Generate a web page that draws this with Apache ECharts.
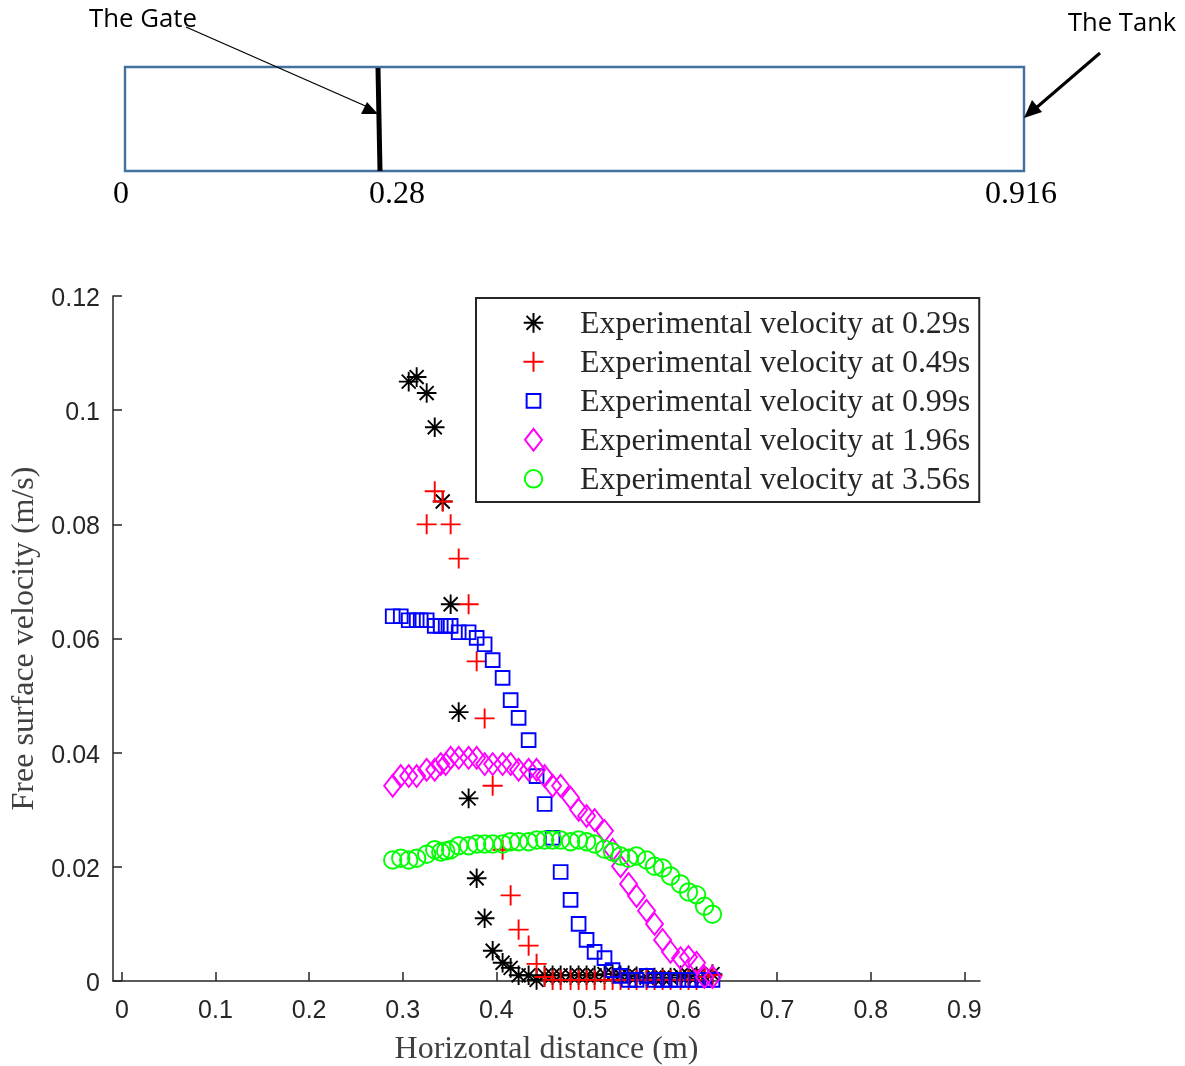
<!DOCTYPE html>
<html>
<head>
<meta charset="utf-8">
<style>html,body{margin:0;padding:0;background:#fff}#c{width:1185px;height:1066px}</style>
<script src="https://cdn.jsdelivr.net/npm/echarts@6/dist/echarts.min.js"></script>
</head>
<body>
<div id="c"></div>
<script>
const xTickValues = [0,0.1,0.2,0.3,0.4,0.5,0.6,0.7,0.8,0.9];
const legendNames = ['Experimental velocity at 0.29s','Experimental velocity at 0.49s','Experimental velocity at 0.99s','Experimental velocity at 1.96s','Experimental velocity at 3.56s'];

const blackX = [.3064,.3149,.3256,.3342,.3427,.3512,.3598,.3704,.3790,.3875,.3961,.4067,.4153,.4238,.4345,.4430,.4516,.4601,.4687,.4793,.4879,.4964,.5050,.5156,.5242,.5327,.5413,.5498,.5605,.5690,.5776,.5861,.5968,.6053,.6139,.6224,.6309];
const blackY = [.1050,.1058,.1030,.0970,.0840,.0660,.0471,.0320,.0180,.0110,.0053,.0032,.0023,.0010,.0010,.0002,.0010,.0010,.0010,.0010,.0010,.0010,.0010,.0012,.0012,.0010,.0010,.0008,.0006,.0006,.0006,.0006,.0010,.0010,.0008,.0008,.0012];

const redX = [.3342,.3427,.3256,.3512,.3598,.3704,.3790,.3875,.3961,.4067,.4153,.4238,.4345,.4430,.4516,.4601,.4687,.4793,.4879,.4964,.5050,.5156,.5242,.5327,.5413,.5498,.5605,.5690,.5776,.5861,.5968,.6053,.6139,.6224,.6309];
const redY = [.0858,.0840,.0800,.0800,.0740,.0660,.0560,.0460,.0342,.0230,.0150,.0090,.0062,.0030,.0007,.0002,.0002,.0002,.0002,.0002,.0002,.0002,.0002,.0002,.0002,.0002,.0002,.0002,.0002,.0002,.0002,.0002,.0002,.0007,.0010];

const blueX = [.2893,.2979,.3064,.3149,.3192,.3256,.3342,.3406,.3459,.3512,.3598,.3704,.3790,.3875,.3961,.4067,.4153,.4238,.4345,.4430,.4516,.4601,.4687,.4793,.4879,.4964,.5050,.5156,.5242,.5327,.5413,.5498,.5605,.5690,.5776,.5861,.5946,.6053,.6139,.6224,.6309];
const blueY = [.0639,.0639,.0632,.0632,.0632,.0632,.0622,.0622,.0622,.0622,.0611,.0611,.0601,.0590,.0562,.0531,.0492,.0461,.0422,.0359,.0310,.0251,.0191,.0142,.0100,.0072,.0051,.0040,.0019,.0009,.0002,.0002,.0009,.0002,.0002,.0002,.0002,.0002,.0002,.0002,.0002];

const magentaX = [.2893,.2979,.3064,.3149,.3256,.3342,.3406,.3459,.3512,.3598,.3704,.3790,.3875,.3961,.4067,.4153,.4238,.4345,.4430,.4516,.4601,.4687,.4793,.4879,.4964,.5050,.5156,.5242,.5327,.5413,.5498,.5605,.5690,.5776,.5861,.5968,.6053,.6139,.6224,.6309];
const magentaY = [.0342,.0359,.0359,.0359,.0370,.0370,.0380,.0380,.0391,.0391,.0391,.0391,.0380,.0380,.0380,.0380,.0370,.0370,.0370,.0359,.0342,.0342,.0321,.0300,.0289,.0282,.0263,.0230,.0201,.0170,.0149,.0123,.0100,.0072,.0051,.0040,.0042,.0032,.0007,.0007];

const greenX = [.2893,.2979,.3064,.3149,.3256,.3342,.3406,.3459,.3512,.3598,.3704,.3790,.3875,.3961,.4067,.4153,.4238,.4345,.4430,.4516,.4601,.4687,.4793,.4879,.4964,.5050,.5156,.5242,.5327,.5413,.5498,.5605,.5690,.5776,.5861,.5968,.6053,.6139,.6224,.6309];
const greenY = [.0212,.0215,.0212,.0215,.0222,.0230,.0226,.0228,.0230,.0237,.0237,.0240,.0240,.0240,.0240,.0244,.0244,.0244,.0247,.0247,.0247,.0247,.0244,.0247,.0244,.0240,.0231,.0226,.0219,.0215,.0219,.0212,.0201,.0198,.0184,.0170,.0156,.0151,.0131,.0117];

const markPad = 'M0 0L0 0M22 22L22 22';
const legendPad = 'M0 0L0 0M22 26L22 26';
const starShape = 'M11 2V20M2 11H20M4.6 4.6L17.4 17.4M17.4 4.6L4.6 17.4';
const plusShape = 'M11 1.8V20.2M1.8 11H20.2';
const squareShape = 'M4.7 4.7H17.3V17.3H4.7Z';
const diamondShape = 'M11 1L18.8 11L11 21L3.2 11Z';
const circleShape = 'M3 11A8 8 0 1 0 19 11A8 8 0 1 0 3 11Z';
const shapes = [starShape, plusShape, squareShape, diamondShape, circleShape];

function pairs(xs, ys){ return xs.map((x,i)=>[x,ys[i]]); }
function mk(i, xs, ys, color){
  return {name:legendNames[i], type:'scatter', data:pairs(xs,ys), symbol:'path://'+markPad+shapes[i], symbolSize:24, z:2+i,
    itemStyle:{color:'rgba(0,0,0,0)', borderColor:color, borderWidth:1.9, opacity:1},
    emphasis:{disabled:true}, animation:false, clip:false};
}
const serif = '"Liberation Serif","Times New Roman",serif';
const sans = '"Liberation Sans",Arial,sans-serif';
const axisCol = '#262626';

const chart = echarts.init(document.getElementById('c'), null, {renderer:'canvas'});
chart.setOption({
  animation:false,
  backgroundColor:'#fff',
  grid:{left:113, right:205, top:296, bottom:85, containLabel:false, outerBoundsMode:'none'},
  xAxis:{type:'value', min:-0.0095, max:0.9167,
    name:'Horizontal distance (m)', nameLocation:'middle', nameGap:53,
    nameTextStyle:{fontFamily:serif, fontSize:32, color:'#404040'},
    axisLine:{show:true, onZero:false, lineStyle:{color:axisCol, width:1.5}},
    axisTick:{show:true, inside:true, length:9, customValues:xTickValues, lineStyle:{color:axisCol, width:1.5}},
    axisLabel:{show:true, customValues:xTickValues, margin:18, fontFamily:sans, fontSize:25, color:'#262626',
      formatter:v=>String(v)},
    splitLine:{show:false}},
  yAxis:{type:'value', min:0, max:0.12, interval:0.02,
    name:'Free surface velocity (m/s)', nameLocation:'middle', nameGap:72,
    nameTextStyle:{fontFamily:serif, fontSize:32, color:'#404040'},
    axisLine:{show:true, onZero:false, lineStyle:{color:axisCol, width:1.5}},
    axisTick:{show:true, inside:true, length:9, lineStyle:{color:axisCol, width:1.5}},
    axisLabel:{show:true, margin:13, fontFamily:sans, fontSize:25, color:'#262626', verticalAlign:'top', lineHeight:6},
    splitLine:{show:false}},
  legend:{show:true, left:476, top:298, orient:'vertical', align:'left',
    padding:[11,9,5,44.5], itemWidth:24, itemHeight:28.4, itemGap:7,
    borderColor:'#262626', borderWidth:2, backgroundColor:'#fff', z:1,
    selectedMode:false,
    textStyle:{fontFamily:serif, fontSize:31.95, color:'#262626', padding:[0,0,0,29.5]},
    data:legendNames.map((name,i)=>({name, icon:'path://'+legendPad+shapes[i]}))},
  series:[
    mk(0, blackX, blackY, '#000000'),
    mk(1, redX, redY, '#ff0000'),
    mk(2, blueX, blueY, '#0000ff'),
    mk(3, magentaX, magentaY, '#ff00ff'),
    mk(4, greenX, greenY, '#00ff00')
  ],
  graphic:{elements:[
    {type:'rect', shape:{x:125,y:67,width:899,height:104}, style:{fill:'none', stroke:'#41719c', lineWidth:2.4}},
    {type:'line', shape:{x1:378,y1:68,x2:380,y2:171}, style:{stroke:'#000', lineWidth:5}},
    {type:'line', shape:{x1:186,y1:27,x2:370,y2:108}, style:{stroke:'#000', lineWidth:1.3}},
    {type:'polygon', shape:{points:[[378,114],[367,102],[361,114]]}, style:{fill:'#000'}},
    {type:'line', shape:{x1:1100,y1:53,x2:1036,y2:108}, style:{stroke:'#000', lineWidth:3}},
    {type:'polygon', shape:{points:[[1024,118],[1032,100],[1042,112]]}, style:{fill:'#000'}},
    {type:'text', x:89, y:20, style:{text:'The Gate', fontFamily:'"Open Sans"', fontSize:25.8, fill:'#000', textVerticalAlign:'middle', textAlign:'left'}},
    {type:'text', x:1068, y:24, style:{text:'The Tank', fontFamily:'"Open Sans"', fontSize:25.6, fill:'#000', textVerticalAlign:'middle', textAlign:'left'}},
    {type:'text', x:121, y:195, style:{text:'0', fontFamily:serif, fontSize:32, fill:'#000', textVerticalAlign:'middle', textAlign:'center'}},
    {type:'text', x:397, y:195, style:{text:'0.28', fontFamily:serif, fontSize:32, fill:'#000', textVerticalAlign:'middle', textAlign:'center'}},
    {type:'text', x:1021, y:195, style:{text:'0.916', fontFamily:serif, fontSize:32, fill:'#000', textVerticalAlign:'middle', textAlign:'center'}}
  ]}
});
</script>
</body>
</html>
